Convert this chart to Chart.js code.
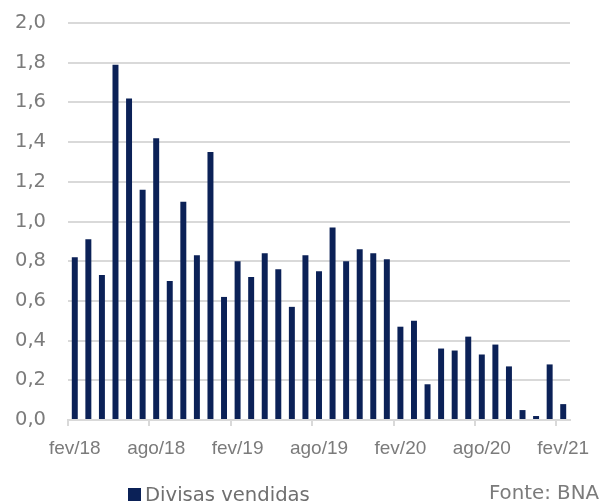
<!DOCTYPE html>
<html>
<head>
<meta charset="utf-8">
<script src="https://cdn.jsdelivr.net/npm/chart.js@4"></script>
<style>
  html, body { margin: 0; padding: 0; background: #ffffff; }
  #wrap { position: relative; width: 605px; height: 503px; }
  canvas { display: block; }
</style>
</head>
<body>
<div id="wrap"><canvas id="c" width="605" height="503"></canvas></div>
<script>
// Monthly sales of foreign currency, fev/18 – fev/21 (billions)
const months = [
  'fev/18','mar/18','abr/18','mai/18','jun/18','jul/18','ago/18','set/18','out/18','nov/18','dez/18',
  'jan/19','fev/19','mar/19','abr/19','mai/19','jun/19','jul/19','ago/19','set/19','out/19','nov/19','dez/19',
  'jan/20','fev/20','mar/20','abr/20','mai/20','jun/20','jul/20','ago/20','set/20','out/20','nov/20','dez/20',
  'jan/21','fev/21'
];
const divisasVendidas = [
  0.82, 0.91, 0.73, 1.79, 1.62, 1.16, 1.42, 0.70, 1.10, 0.83, 1.35,
  0.62, 0.80, 0.72, 0.84, 0.76, 0.57, 0.83, 0.75, 0.97, 0.80, 0.86, 0.84,
  0.81, 0.47, 0.50, 0.18, 0.36, 0.35, 0.42, 0.33, 0.38, 0.27, 0.05, 0.02,
  0.28, 0.08
];
const yTicks = [0, 0.2, 0.4, 0.6, 0.8, 1.0, 1.2, 1.4, 1.6, 1.8, 2.0];
const seriesName = 'Divisas vendidas';
const sourceNote = 'Fonte: BNA';

const NAVY = '#0b2157';
const GRID = '#d9d9d9';
const LABEL = '#7b7b7b';

// Legend entry and source note along the bottom edge
const bottomNotes = {
  id: 'bottomNotes',
  afterDraw(chart) {
    const ctx = chart.ctx;
    ctx.save();
    ctx.fillStyle = NAVY;
    ctx.fillRect(128, 488, 13, 13);
    ctx.font = '19.6px "DejaVu Sans"';
    ctx.fillStyle = '#6f6f6f';
    ctx.textBaseline = 'alphabetic';
    ctx.textAlign = 'left';
    ctx.fillText(chart.data.datasets[0].label, 145, 501);
    ctx.font = '19.8px "DejaVu Sans"';
    ctx.fillStyle = LABEL;
    ctx.textAlign = 'right';
    ctx.fillText(sourceNote, 599, 499);
    ctx.restore();
  }
};

new Chart(document.getElementById('c'), {
  type: 'bar',
  data: {
    labels: months,
    datasets: [{
      label: seriesName,
      data: divisasVendidas,
      backgroundColor: NAVY,
      borderWidth: 0,
      categoryPercentage: 1.0,
      barPercentage: 0.44
    }]
  },
  options: {
    responsive: false,
    animation: false,
    events: [],
    layout: { padding: { top: 23, right: 35, bottom: 43, left: 0 } },
    plugins: {
      legend: { display: false },
      tooltip: { enabled: false }
    },
    scales: {
      x: {
        offset: true,
        afterFit(s) { s.height = 40; },
        grid: {
          offset: true,
          drawOnChartArea: false,
          drawTicks: true,
          tickLength: 6,
          lineWidth: 2,
          color: ctx => (ctx.index % 6 === 0 ? GRID : 'rgba(0,0,0,0)')
        },
        border: { display: true, color: GRID, width: 2 },
        ticks: {
          autoSkip: false,
          maxRotation: 0,
          minRotation: 0,
          padding: 11,
          color: LABEL,
          font: { family: '"Liberation Sans"', size: 19 },
          callback: (v, i) => (i % 6 === 0 ? months[i] : '')
        }
      },
      y: {
        min: 0,
        max: 2,
        afterFit(s) { s.width = 68; },
        afterBuildTicks(s) { s.ticks = yTicks.map(v => ({ value: v })); },
        grid: {
          color: GRID,
          lineWidth: 2,
          drawTicks: true,
          tickLength: 20,
          tickColor: 'rgba(0,0,0,0)'
        },
        border: { display: false },
        ticks: {
          padding: 2,
          color: LABEL,
          font: { family: '"DejaVu Sans"', size: 19.5 },
          callback: v => Number(v).toFixed(1).replace('.', ',')
        }
      }
    }
  },
  plugins: [bottomNotes]
});
</script>
</body>
</html>
